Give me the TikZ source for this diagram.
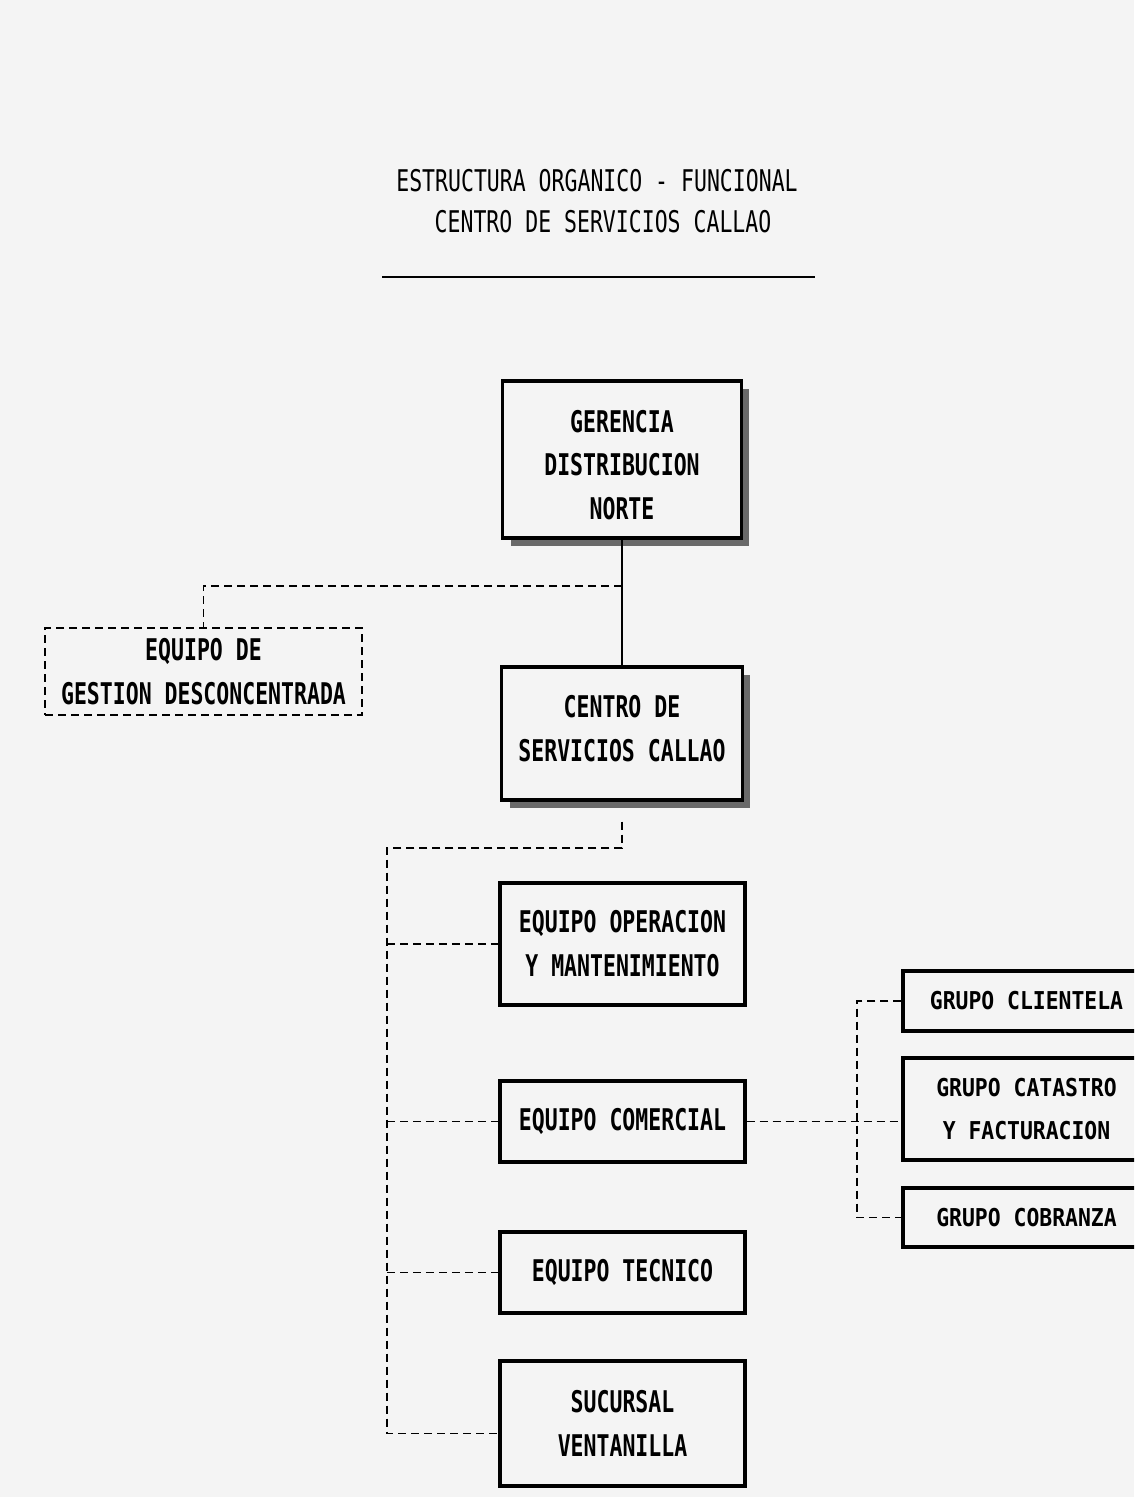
\documentclass[tikz,border=0pt]{standalone}
\usepackage{fontspec}
\newfontfamily\boxfont{DejaVu Sans Mono}[FakeStretch=0.72]
\newfontfamily\grpfont{DejaVu Sans Mono}[FakeStretch=0.87]
\usetikzlibrary{calc,shadows}
\definecolor{paper}{RGB}{244,244,244}
\definecolor{shadecol}{RGB}{105,105,105}
\tikzset{
  font={\boxfont\bfseries\fontsize{17pt}{25pt}\selectfont},
  box/.style={draw,line width=2pt,fill=paper,align=center,inner sep=0},
  shadowbox/.style={box,drop shadow={shadow xshift=0.16cm,shadow yshift=-0.16cm,fill=shadecol,opacity=1}},
  dashbox/.style={draw,dashed,line width=1pt,dash pattern=on 0.16cm off 0.1cm,align=center,inner sep=0},
  grpbox/.style={box,font={\grpfont\bfseries\fontsize{14pt}{25pt}\selectfont}},
  conn/.style={draw,line width=1pt,dash pattern=on 0.16cm off 0.1cm},
  solid conn/.style={draw,line width=1pt},
}
\begin{document}
\begin{tikzpicture}[x=0.02cm,y=-0.02cm]
  \useasboundingbox (0,0) rectangle (1134,1497);
  \clip (0,0) rectangle (1134,1497);
  \fill[paper] (0,0) rectangle (1134,1497);

  % title
  \node (title1) [font={\boxfont\fontsize{17pt}{25pt}\selectfont}] at (597,181) {ESTRUCTURA ORGANICO - FUNCIONAL};
  \node (title2) [font={\boxfont\fontsize{17pt}{25pt}\selectfont}] at (603,222) {CENTRO DE SERVICIOS CALLAO};
  \draw[line width=1pt] (382,277) -- (815,277);

  % main column
  \node (gerencia) [shadowbox,minimum width=4.78cm,minimum height=3.14cm,text height=69pt] at (622,459.5) {GERENCIA\\DISTRIBUCION\\NORTE};
  \node (centro) [shadowbox,minimum width=4.82cm,minimum height=2.66cm,text depth=5.6pt] at (622,733.5) {CENTRO DE\\SERVICIOS CALLAO};
  \node (gestion) [dashbox,minimum width=6.34cm,minimum height=1.74cm] at (203.5,671.5) {EQUIPO DE\\GESTION DESCONCENTRADA};

  \node (operacion) [box,minimum width=4.9cm,minimum height=2.44cm] at (622.5,944) {EQUIPO OPERACION\\Y MANTENIMIENTO};
  \node (comercial) [box,minimum width=4.9cm,minimum height=1.62cm] at (622.5,1121.5) {EQUIPO COMERCIAL};
  \node (tecnico) [box,minimum width=4.9cm,minimum height=1.62cm] at (622.5,1272.5) {EQUIPO TECNICO};
  \node (sucursal) [box,minimum width=4.9cm,minimum height=2.5cm] at (622.5,1423.5) {SUCURSAL\\VENTANILLA};

  % grupos
  \node (clientela) [grpbox,minimum width=4.94cm,minimum height=1.2cm] at (1026.5,1001) {GRUPO CLIENTELA};
  \node (catastro) [grpbox,minimum width=4.94cm,minimum height=2.04cm] at (1026.5,1109) {GRUPO CATASTRO\\Y FACTURACION};
  \node (cobranza) [grpbox,minimum width=4.94cm,minimum height=1.18cm] at (1026.5,1217.5) {GRUPO COBRANZA};

  \coordinate (gsplit) at (622,586);
  \coordinate (csplit) at (622,848);
  \coordinate (trunk) at (387,848);
  \coordinate (gbus) at (857,1131);

  % connectors
  \path [solid conn] (gerencia.south) -- (centro.north);
  \path [conn] (gsplit) -| (gestion.north);
  \path [conn] ([yshift=-0.4cm]centro.south) -- (csplit) -- (trunk) |- ([yshift=-0.2cm]sucursal.west);
  \path [conn] (trunk |- operacion.west) -- (operacion.west);
  \path [conn] (trunk |- comercial.west) -- (comercial.west);
  \path [conn] (trunk |- tecnico.west) -- (tecnico.west);
  \path [conn] (comercial.east) -- (comercial.east -| catastro.west);
  \path [conn] (clientela.west) -- (clientela.west -| gbus) -- (cobranza.west -| gbus) -- (cobranza.west);
\end{tikzpicture}
\end{document}
